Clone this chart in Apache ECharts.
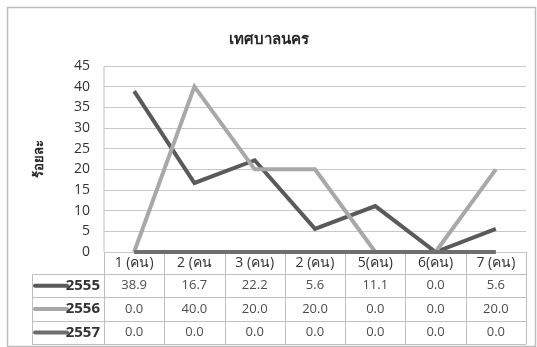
<!DOCTYPE html>
<html>
<head>
<meta charset="utf-8">
<script src="https://cdn.jsdelivr.net/npm/echarts@6/dist/echarts.min.js"></script>
<style>
  html, body { margin: 0; padding: 0; background: #ffffff; }
  #chart { width: 537px; height: 347px; }
</style>
</head>
<body>
<div id="chart"></div>
<script>
// Share of respondents by household size, city municipality
const categories = ['1 (คน)', '2 (คน', '3 (คน)', '2 (คน)', '5(คน)', '6(คน)', '7 (คน)'];
const seriesNames = ['2555', '2556', '2557'];
const values2555 = [38.9, 16.7, 22.2, 5.6, 11.1, 0.0, 5.6];
const values2556 = [0.0, 40.0, 20.0, 20.0, 0.0, 0.0, 20.0];
const values2557 = [0.0, 0.0, 0.0, 0.0, 0.0, 0.0, 0.0];
const yTicks = { min: 0, max: 45, interval: 5 };

const seriesValues = [values2555, values2556, values2557];
const colors = ['#5a5a5a', '#a8a8a8', '#6e6e6e'];
const font = '"Open Sans", "Noto Sans", sans-serif';

// plot area and data-table geometry
const G = { left: 104, right: 11, top: 66, bottom: 95 };
const W = 537, H = 347;
const plotRight = W - G.right;
const axisY = H - G.bottom;
const headerH = 22;
const rowH = 23.4;
const legendLeft = 32;

const xAxes = [{
  type: 'category',
  data: categories,
  boundaryGap: true,
  axisLine: { show: false },
  axisTick: { show: false },
  axisLabel: {
    interval: 0, margin: 11, verticalAlign: 'middle',
    color: '#333333', fontSize: 14, fontFamily: font
  }
}];
seriesValues.forEach((vals, i) => {
  xAxes.push({
    type: 'category',
    data: vals.map(v => v.toFixed(1)),
    position: 'bottom',
    boundaryGap: true,
    axisLine: { show: false },
    axisTick: { show: false },
    axisLabel: {
      interval: 0,
      margin: headerH + rowH * i + rowH / 2,
      verticalAlign: 'middle',
      color: '#4d4d4d', fontSize: 13, fontFamily: font
    }
  });
});

// table rules
const graphics = [];
const line = (x1, y1, x2, y2, c) => graphics.push({
  type: 'line', silent: true,
  shape: { x1, y1, x2, y2 },
  style: { stroke: c || '#bfbfbf', lineWidth: 1 }
});
const colW = (plotRight - G.left) / categories.length;
const tableBottom = axisY + headerH + rowH * seriesNames.length;
for (let k = 0; k <= categories.length; k++) {
  const x = Math.round(G.left + k * colW) + 0.5;
  line(x, axisY, x, tableBottom);
}
line(legendLeft + 0.5, axisY + headerH, legendLeft + 0.5, tableBottom);
for (let r = 0; r <= seriesNames.length; r++) {
  const y = Math.round(axisY + headerH + r * rowH) + 0.5;
  line(legendLeft, y, plotRight, y);
}
line(G.left, G.top + 0.5, G.left, axisY, '#bfbfbf');
// legend keys inside the table
seriesNames.forEach((name, i) => {
  const cy = axisY + headerH + rowH * i + rowH / 2;
  graphics.push({
    type: 'line', silent: true,
    shape: { x1: 35, y1: cy, x2: 67, y2: cy },
    style: { stroke: colors[i], lineWidth: 4, lineCap: 'round' }
  });
  graphics.push({
    type: 'text', silent: true,
    x: 100, y: cy,
    style: {
      text: name, align: 'right', verticalAlign: 'middle',
      fill: '#333333', fontSize: 15, fontWeight: 'bold', fontFamily: font
    }
  });
});
// outer frame
graphics.push({
  type: 'rect', silent: true,
  shape: { x: 7.5, y: 7.5, width: 528, height: 339 },
  style: { fill: 'none', stroke: '#bdbdbd', lineWidth: 1.5 }
});

const chart = echarts.init(document.getElementById('chart'), null, { renderer: 'canvas' });
chart.setOption({
  backgroundColor: '#ffffff',
  animation: false,
  title: {
    text: 'เทศบาลนคร',
    left: 'center', top: 27,
    textStyle: { fontSize: 15, fontWeight: 'bold', color: '#262626', fontFamily: font }
  },
  grid: { left: G.left, right: G.right, top: G.top, bottom: G.bottom, containLabel: false },
  xAxis: xAxes,
  yAxis: {
    type: 'value',
    min: yTicks.min, max: yTicks.max, interval: yTicks.interval,
    name: 'ร้อยละ',
    nameLocation: 'middle',
    nameGap: 58,
    nameRotate: 90,
    nameTextStyle: { fontSize: 13, fontWeight: 'bold', color: '#262626', fontFamily: font },
    axisLine: { show: false },
    axisTick: { show: false },
    axisLabel: { margin: 14, color: '#333333', fontSize: 14, fontFamily: font },
    splitLine: { lineStyle: { color: '#c8c8c8', width: 1 } }
  },
  series: seriesNames.map((name, i) => ({
    name,
    type: 'line',
    data: seriesValues[i],
    symbol: 'none',
    lineStyle: { color: colors[i], width: 4, join: 'miter' },
    itemStyle: { color: colors[i] },
    z: 3 + i
  })),
  graphic: graphics
});
</script>
</body>
</html>
